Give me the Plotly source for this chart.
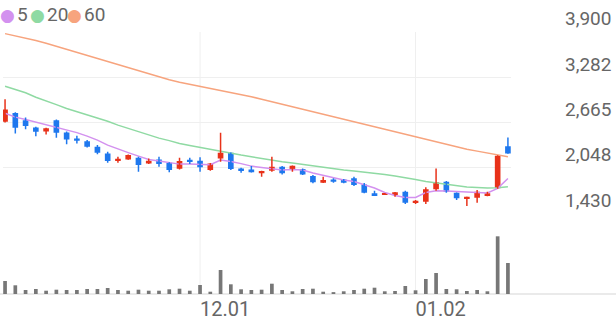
import plotly.graph_objects as go

dates = ["11.06","11.07","11.08","11.09","11.10","11.13","11.14","11.15","11.16","11.17",
         "11.20","11.21","11.22","11.23","11.24","11.27","11.28","11.29","11.30","12.01",
         "12.04","12.05","12.06","12.07","12.08","12.11","12.12","12.13","12.14","12.15",
         "12.18","12.19","12.20","12.21","12.22","12.25","12.26","12.27","12.28","12.29",
         "01.02","01.03","01.04","01.05","01.08","01.09","01.10","01.11","01.12","01.15"]

opens = [2676,2798,2699,2600,2545,2699,2532,2450,2413,2336,2246,2151,2164,2186,2110,2164,2118,2037,2159,2145,
         2019,2178,2254,2042,2028,1974,2009,2064,2028,2032,1937,1846,1892,1892,1906,1824,1702,1683,1679,1724,
         1574,1588,1756,1860,1710,1634,1642,1679,1770,2345]
closes = [2844,2594,2621,2540,2590,2526,2436,2417,2336,2254,2141,2173,2223,2087,2145,2100,2019,2141,2132,2056,
          2110,2254,2032,2005,1988,2005,2064,1974,2077,1960,1852,1883,1860,1846,1815,1710,1679,1702,1716,1574,
          1601,1756,1852,1724,1634,1656,1724,1702,2213,2246]
highs = [2984,2808,2736,2610,2595,2708,2545,2485,2427,2359,2268,2200,2230,2200,2178,2200,2125,2186,2186,2192,
         2115,2526,2260,2050,2073,2010,2200,2073,2082,2040,1951,1928,1906,1898,1928,1842,1737,1706,1720,1737,
         1611,1784,2042,1869,1715,1656,1747,1724,2220,2464]
lows = [2668,2518,2576,2481,2504,2458,2372,2382,2328,2236,2118,2118,2160,1996,2100,2064,1988,2028,2100,1996,
        2010,2132,2019,1982,1985,1928,1996,1960,1996,1952,1838,1842,1846,1840,1801,1702,1675,1680,1656,1556,
        1556,1556,1737,1710,1611,1529,1574,1661,1765,2240]

ma5 = [2794,2740,2708,2672,2644,2610,2570,2529,2481,2427,2359,2304,2257,2209,2162,2141,2121,2100,2100,2100,
       2091,2155,2137,2107,2073,2053,2032,2019,2026,2019,1978,1944,1910,1883,1862,1822,1774,1713,1672,1645,
       1645,1713,1737,1733,1726,1720,1716,1706,1770,1903]
ma20 = [3161,3120,3073,3012,2957,2910,2858,2814,2767,2733,2685,2631,2586,2549,2502,2454,2420,2382,2355,2328,
        2298,2268,2243,2223,2200,2175,2155,2132,2114,2094,2073,2060,2039,2019,2005,1992,1974,1958,1937,1917,
        1890,1862,1842,1824,1808,1788,1781,1774,1778,1792]
ma60 = [3878,3848,3814,3783,3746,3705,3658,3617,3576,3535,3492,3451,3413,3372,3331,3290,3250,3216,3188,3161,
        3134,3107,3080,3052,3018,2984,2950,2916,2882,2848,2814,2780,2746,2712,2678,2644,2610,2576,2542,2508,
        2468,2434,2400,2366,2332,2304,2277,2250,2223,2202]

volumes = [260000,174000,80000,100000,66000,86000,80000,80000,100000,100000,
           120000,80000,66000,86000,66000,66000,94000,106000,66000,180000,
           46000,480000,194000,94000,80000,86000,206000,80000,54000,100000,
           106000,46000,34000,54000,80000,106000,126000,54000,60000,160000,
           74000,300000,420000,100000,94000,60000,80000,54000,1154000,620000]

price_ticks = [1430, 2048, 2665, 3282, 3900]
x_tick_labels = ["12.01", "01.02"]
ma_names = ["5", "20", "60"]

UP = "#E8321A"
DOWN = "#1F78EE"
C5 = "#D391EF"
C20 = "#8FDAA3"
C60 = "#F7A47E"
TXT = "#666666"
GRID = "#EFEFEF"

x = list(range(len(dates)))
colors = [UP if c >= o else DOWN for o, c in zip(opens, closes)]

fig = go.Figure()

# moving averages
for vals, col in [(ma60, C60), (ma20, C20), (ma5, C5)]:
    fig.add_trace(go.Scatter(x=x, y=vals, mode="lines", line=dict(color=col, width=1.5),
                             hoverinfo="skip", showlegend=False, yaxis="y"))

# wicks
for col in (UP, DOWN):
    wx, wy = [], []
    for i in x:
        if colors[i] == col:
            wx += [i, i, None]
            wy += [lows[i], highs[i], None]
    fig.add_trace(go.Scatter(x=wx, y=wy, mode="lines", line=dict(color=col, width=1.5),
                             hoverinfo="skip", showlegend=False, yaxis="y"))

# bodies
fig.add_trace(go.Bar(x=x, base=[min(o, c) for o, c in zip(opens, closes)],
                     y=[max(abs(c - o), 12) for o, c in zip(opens, closes)],
                     width=0.55, marker=dict(color=colors, line=dict(width=0)),
                     hoverinfo="skip", showlegend=False, yaxis="y"))

# volume
fig.add_trace(go.Bar(x=x, y=volumes, width=0.36, marker=dict(color="#777777", line=dict(width=0)),
                     hoverinfo="skip", showlegend=False, yaxis="y2"))

shapes = []
for lab in x_tick_labels:
    xi = dates.index(lab)
    shapes.append(dict(type="line", xref="x", yref="paper", x0=xi, x1=xi, y0=0, y1=1,
                       line=dict(color=GRID, width=1), layer="below"))
shapes.append(dict(type="line", xref="paper", yref="paper", x0=-0.01, x1=1.21, y0=0, y1=0,
                   line=dict(color="#E3E3E3", width=1.5), layer="below"))

annotations = []
for lab, col, dot_px, txt_px in zip(ma_names, [C5, C20, C60], [7, 37, 74], [15, 45, 82]):
    annotations.append(dict(xref="paper", yref="paper", x=0, y=1, xanchor="center", yanchor="middle",
                            xshift=dot_px - 3, yshift=17, showarrow=False, text="●",
                            font=dict(family="DejaVu Sans", size=17, color=col)))
    annotations.append(dict(xref="paper", yref="paper", x=0, y=1, xanchor="left", yanchor="middle",
                            xshift=txt_px - 3, yshift=18, showarrow=False, text=lab,
                            font=dict(family="Roboto", size=19, color=TXT)))

fig.update_layout(
    width=616, height=321,
    margin=dict(l=3, r=105, t=32, b=27, autoexpand=False),
    paper_bgcolor="white", plot_bgcolor="white",
    barmode="overlay",
    showlegend=False,
    shapes=shapes,
    annotations=annotations,
    font=dict(family="Roboto", color=TXT),
    xaxis=dict(range=[-0.2, 49.3], tickmode="array",
               tickvals=[dates.index(l) for l in x_tick_labels], ticktext=x_tick_labels,
               ticklabelposition="outside right", ticklabelstandoff=1, automargin=False,
               showgrid=False, zeroline=False, showline=False,
               ticks="", tickfont=dict(size=20, color=TXT), anchor="y2", fixedrange=True),
    yaxis=dict(domain=[0.308, 1], range=[1430, 3900], side="right", tickmode="array",
               tickvals=price_ticks, ticktext=[f"{v:,}" for v in price_ticks],
               ticklabelposition="outside top", ticklabelstandoff=53, automargin=False,
               showgrid=True, gridcolor=GRID, gridwidth=1, zeroline=False, showline=False,
               ticks="", tickfont=dict(size=19, color=TXT), anchor="x"),
    yaxis2=dict(domain=[0, 0.24], range=[0, 1258000], showgrid=False, showticklabels=False,
                automargin=False, zeroline=False, showline=False, ticks="", anchor="x"),
)

fig.write_html("out.html")
